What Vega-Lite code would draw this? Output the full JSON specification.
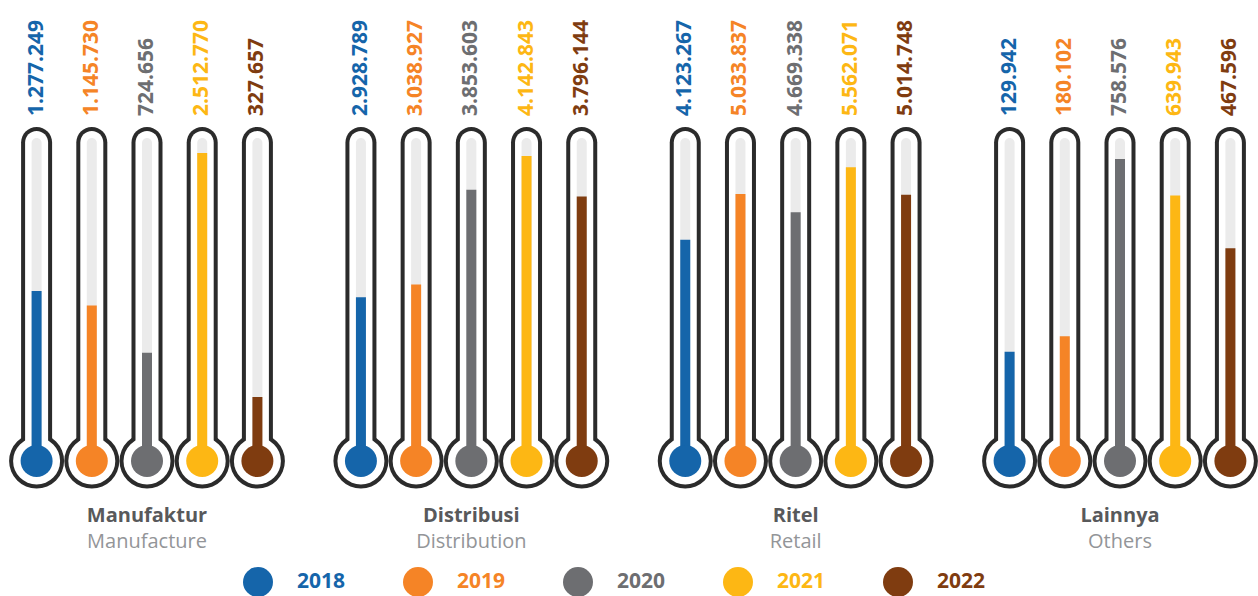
{
  "$schema": "https://vega.github.io/schema/vega-lite/v6.json",
  "width": 1249,
  "height": 560,
  "autosize": {"type": "none"},
  "padding": {"left": 9, "right": 0, "top": 0, "bottom": 36},
  "background": "white",
  "config": {
    "view": {"stroke": null},
    "locale": {"number": {"decimal": ",", "thousands": ".", "grouping": [3], "currency": ["Rp", ""]}}
  },
  "data": {
    "values": [
      {"group": "Manufaktur", "year": "2018", "value": 1277249},
      {"group": "Manufaktur", "year": "2019", "value": 1145730},
      {"group": "Manufaktur", "year": "2020", "value": 724656},
      {"group": "Manufaktur", "year": "2021", "value": 2512770},
      {"group": "Manufaktur", "year": "2022", "value": 327657},
      {"group": "Distribusi", "year": "2018", "value": 2928789},
      {"group": "Distribusi", "year": "2019", "value": 3038927},
      {"group": "Distribusi", "year": "2020", "value": 3853603},
      {"group": "Distribusi", "year": "2021", "value": 4142843},
      {"group": "Distribusi", "year": "2022", "value": 3796144},
      {"group": "Ritel", "year": "2018", "value": 4123267},
      {"group": "Ritel", "year": "2019", "value": 5033837},
      {"group": "Ritel", "year": "2020", "value": 4669338},
      {"group": "Ritel", "year": "2021", "value": 5562071},
      {"group": "Ritel", "year": "2022", "value": 5014748},
      {"group": "Lainnya", "year": "2018", "value": 129942},
      {"group": "Lainnya", "year": "2019", "value": 180102},
      {"group": "Lainnya", "year": "2020", "value": 758576},
      {"group": "Lainnya", "year": "2021", "value": 639943},
      {"group": "Lainnya", "year": "2022", "value": 467596}
    ]
  },
  "layer": [
    {
      "encoding": {
        "x": {"field": "group", "type": "nominal", "scale": {"domain": ["Manufaktur", "Distribusi", "Ritel", "Lainnya"], "paddingInner": 0.149, "paddingOuter": 0}, "axis": null},
        "xOffset": {"field": "year", "type": "nominal", "scale": {"paddingInner": 0, "paddingOuter": 0}}
      },
      "layer": [
        {
          "mark": {"type": "bar", "width": 31, "cornerRadius": 15.5, "color": "#2b2b2b"},
          "encoding": {
            "y": {"datum": 100, "type": "quantitative", "scale": {"domain": [-29.64, 138.02], "nice": false, "zero": false}, "axis": null},
            "y2": {"datum": 0}
          }
        },
        {
          "mark": {"type": "point", "shape": "circle", "filled": true, "size": 3025, "color": "#2b2b2b", "opacity": 1},
          "encoding": {
            "y": {"datum": 0, "type": "quantitative", "scale": {"domain": [-29.64, 138.02], "nice": false, "zero": false}, "axis": null}
          }
        },
        {
          "mark": {"type": "bar", "width": 23, "cornerRadius": 11.5, "color": "#ffffff"},
          "encoding": {
            "y": {"datum": 98.8, "type": "quantitative", "scale": {"domain": [-29.64, 138.02], "nice": false, "zero": false}, "axis": null},
            "y2": {"datum": 0}
          }
        },
        {
          "mark": {"type": "point", "shape": "circle", "filled": true, "size": 2209, "color": "#ffffff", "opacity": 1},
          "encoding": {
            "y": {"datum": 0, "type": "quantitative", "scale": {"domain": [-29.64, 138.02], "nice": false, "zero": false}, "axis": null}
          }
        },
        {
          "mark": {"type": "bar", "width": 10, "cornerRadius": 5, "color": "#ebebeb"},
          "encoding": {
            "y": {"datum": 96.71, "type": "quantitative", "scale": {"domain": [-29.64, 138.02], "nice": false, "zero": false}, "axis": null},
            "y2": {"datum": 0}
          }
        }
      ]
    },
    {
      "transform": [{"filter": "datum.group === 'Manufaktur'"}],
      "mark": {"type": "bar", "width": 10},
      "encoding": {
        "x": {"field": "group", "type": "nominal", "axis": null},
        "xOffset": {"field": "year", "type": "nominal"},
        "y": {"field": "value", "type": "quantitative", "scale": {"domain": [-1132000, 3882000], "nice": false, "zero": false}, "axis": null},
        "y2": {"datum": -245000},
        "color": {
          "field": "year", "type": "nominal",
          "scale": {"domain": ["2018", "2019", "2020", "2021", "2022"], "range": ["#1565aa", "#f58426", "#6d6e71", "#fdb714", "#7f3c10"]},
          "legend": {
            "title": null, "orient": "none", "legendX": 234, "legendY": 567, "direction": "horizontal",
            "symbolType": "circle", "symbolSize": 900, "symbolStrokeWidth": 0, "symbolOpacity": 1,
            "labelFont": "Open Sans", "labelFontWeight": "bold", "labelFontSize": 21,
            "labelOffset": 24, "columnPadding": 57, "padding": 0,
            "encode": {"labels": {"update": {"fill": {"scale": "color", "field": "value"}}}}
          }
        }
      }
    },
    {
      "transform": [{"filter": "datum.group === 'Distribusi'"}],
      "mark": {"type": "bar", "width": 10},
      "encoding": {
        "x": {"field": "group", "type": "nominal", "axis": null},
        "xOffset": {"field": "year", "type": "nominal"},
        "y": {"field": "value", "type": "quantitative", "scale": {"domain": [670000, 5485000], "nice": false, "zero": false}, "axis": null},
        "y2": {"datum": 1521000},
        "color": {"field": "year", "type": "nominal"}
      }
    },
    {
      "transform": [{"filter": "datum.group === 'Ritel'"}],
      "mark": {"type": "bar", "width": 10},
      "encoding": {
        "x": {"field": "group", "type": "nominal", "axis": null},
        "xOffset": {"field": "year", "type": "nominal"},
        "y": {"field": "value", "type": "quantitative", "scale": {"domain": [-2245000, 8889000], "nice": false, "zero": false}, "axis": null},
        "y2": {"datum": -276000},
        "color": {"field": "year", "type": "nominal"}
      }
    },
    {
      "transform": [{"filter": "datum.group === 'Lainnya'"}],
      "mark": {"type": "bar", "width": 10},
      "encoding": {
        "x": {"field": "group", "type": "nominal", "axis": null},
        "xOffset": {"field": "year", "type": "nominal"},
        "y": {"field": "value", "type": "quantitative", "scale": {"domain": [-550000, 1277700], "nice": false, "zero": false}, "axis": null},
        "y2": {"datum": -227000},
        "color": {"field": "year", "type": "nominal"}
      }
    },
    {
      "layer": [
        {
          "mark": {"type": "point", "shape": "circle", "filled": true, "size": 1024, "opacity": 1},
          "encoding": {
            "x": {"field": "group", "type": "nominal", "axis": null},
            "xOffset": {"field": "year", "type": "nominal"},
            "y": {"datum": 0, "type": "quantitative", "scale": {"domain": [-29.64, 138.02], "nice": false, "zero": false}, "axis": null},
            "color": {"field": "year", "type": "nominal"}
          }
        },
        {
          "mark": {"type": "text", "angle": 270, "align": "left", "baseline": "middle", "font": "Open Sans", "fontWeight": "bold", "fontSize": 21},
          "encoding": {
            "x": {"field": "group", "type": "nominal", "axis": null},
            "xOffset": {"field": "year", "type": "nominal"},
            "y": {"datum": 103.29, "type": "quantitative", "scale": {"domain": [-29.64, 138.02], "nice": false, "zero": false}, "axis": null},
            "text": {"field": "value", "type": "quantitative", "format": ",d"},
            "color": {"field": "year", "type": "nominal"}
          }
        },
        {
          "data": {"values": [
            {"group": "Manufaktur", "en": "Manufacture"},
            {"group": "Distribusi", "en": "Distribution"},
            {"group": "Ritel", "en": "Retail"},
            {"group": "Lainnya", "en": "Others"}
          ]},
          "layer": [
            {
              "mark": {"type": "text", "font": "Open Sans", "fontWeight": "bold", "fontSize": 20, "color": "#58595b", "baseline": "alphabetic"},
              "encoding": {
                "x": {"field": "group", "type": "nominal", "axis": null},
                "y": {"datum": -18.26, "type": "quantitative", "scale": {"domain": [-29.64, 138.02], "nice": false, "zero": false}, "axis": null},
                "text": {"field": "group"}
              }
            },
            {
              "mark": {"type": "text", "font": "Open Sans", "fontWeight": "normal", "fontSize": 20, "color": "#939598", "baseline": "alphabetic"},
              "encoding": {
                "x": {"field": "group", "type": "nominal", "axis": null},
                "y": {"datum": -26.05, "type": "quantitative", "scale": {"domain": [-29.64, 138.02], "nice": false, "zero": false}, "axis": null},
                "text": {"field": "en"}
              }
            }
          ]
        }
      ]
    }
  ],
  "resolve": {"scale": {"y": "independent"}}
}
